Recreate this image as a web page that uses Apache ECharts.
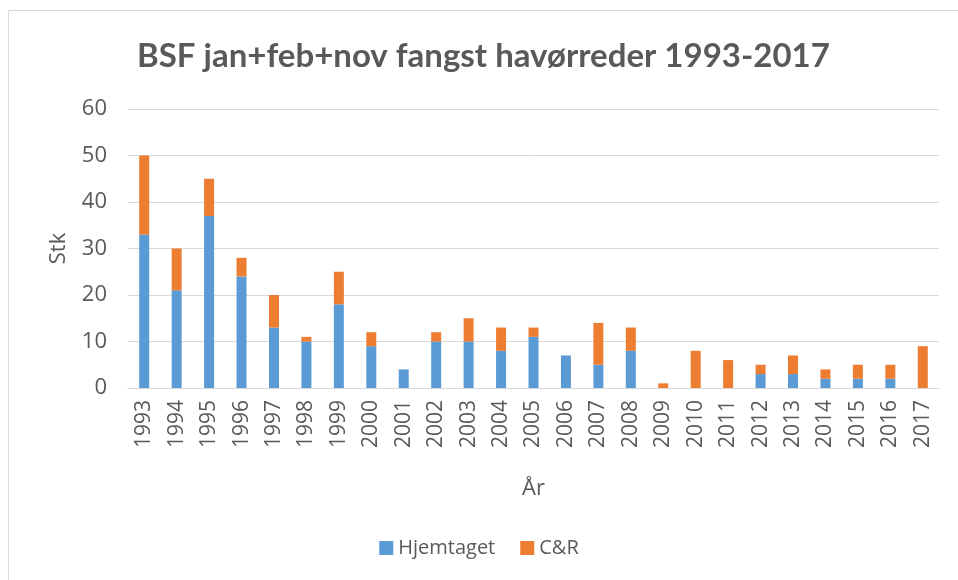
<!DOCTYPE html>
<html>
<head>
<meta charset="utf-8">
<script src="https://cdn.jsdelivr.net/npm/echarts@6/dist/echarts.min.js"></script>
<style>
  html, body { margin: 0; padding: 0; background: #ffffff; }
  #chart { width: 958px; height: 580px; }
</style>
</head>
<body>
<div id="chart"></div>
<script>
// år og fangst
const years = ['1993', '1994', '1995', '1996', '1997', '1998', '1999', '2000', '2001', '2002', '2003', '2004', '2005',
  '2006', '2007', '2008', '2009', '2010', '2011', '2012', '2013', '2014', '2015', '2016', '2017']
const hjemtaget = [33, 21, 37, 24, 13, 10, 18, 9, 4, 10, 10, 8, 11, 7, 5, 8, 0, 0, 0, 3, 3, 2, 2, 2, 0]
const catchRelease = [17, 9, 8, 4, 7, 1, 7, 3, 0, 2, 5, 5, 2, 0, 9, 5, 1, 8, 6, 2, 4, 2, 3, 3, 9]

const textColor = '#595959'
const font = '"Open Sans", Lato, sans-serif'

const chart = echarts.init(document.getElementById('chart'))
chart.setOption({
  backgroundColor: '#ffffff',
  animation: false,
  textStyle: { fontFamily: font },
  graphic: [{
    type: 'rect',
    shape: { x: 8.5, y: 10.5, width: 970, height: 600 },
    style: { fill: 'none', stroke: '#d9d9d9', lineWidth: 1 }
  }],
  title: {
    text: 'BSF jan+feb+nov fangst havørreder 1993-2017',
    left: 132,
    top: 35,
    textStyle: { fontFamily: 'Lato, sans-serif', fontWeight: 'bold', fontSize: 33, color: textColor }
  },
  legend: {
    bottom: 17,
    left: 'center',
    itemWidth: 14,
    itemHeight: 14,
    itemGap: 25,
    icon: 'rect',
    textStyle: { fontSize: 20, color: textColor, fontFamily: font },
    data: ['Hjemtaget', 'C&R']
  },
  grid: {
    left: 128,
    right: 19,
    top: 109,
    bottom: 192,
    containLabel: false
  },
  xAxis: {
    type: 'category',
    data: years,
    name: 'År',
    nameLocation: 'middle',
    nameGap: 90,
    nameTextStyle: { fontSize: 22, color: textColor },
    axisLine: { lineStyle: { color: '#d9d9d9', width: 1 } },
    axisTick: { show: false },
    axisLabel: { rotate: 90, fontSize: 21, color: textColor, margin: 12 }
  },
  yAxis: {
    type: 'value',
    min: 0,
    max: 60,
    interval: 10,
    name: 'Stk',
    nameLocation: 'middle',
    nameGap: 58,
    nameTextStyle: { fontSize: 22, color: textColor },
    axisLabel: { fontSize: 22, color: textColor, margin: 21 },
    splitLine: { lineStyle: { color: '#d9d9d9', width: 1 } }
  },
  series: [
    {
      name: 'Hjemtaget',
      type: 'bar',
      stack: 'fangst',
      barWidth: 10,
      itemStyle: { color: '#5b9bd5' },
      data: hjemtaget
    },
    {
      name: 'C&R',
      type: 'bar',
      stack: 'fangst',
      barWidth: 10,
      itemStyle: { color: '#ed7d31' },
      data: catchRelease
    }
  ]
})
</script>
</body>
</html>
